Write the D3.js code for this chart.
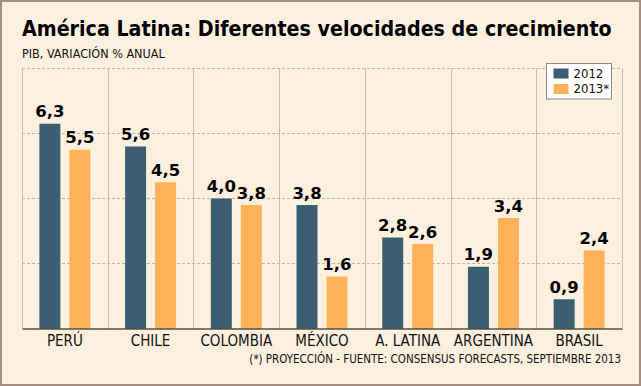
<!DOCTYPE html>
<html>
<head>
<meta charset="utf-8">
<script src="https://cdn.jsdelivr.net/npm/d3@7"></script>
<style>
  body { margin: 0; background: #fff; }
  svg { display: block; }
</style>
</head>
<body>
<div id="chart"></div>
<script>
// data
var countries = ["PERÚ", "CHILE", "COLOMBIA", "MÉXICO", "A. LATINA", "ARGENTINA", "BRASIL"];
var series = ["2012", "2013*"];
var values2012 = [6.3, 5.6, 4.0, 3.8, 2.8, 1.9, 0.9];
var values2013 = [5.5, 4.5, 3.8, 1.6, 2.6, 3.4, 2.4];
var yTicks = [0, 2, 4, 6, 8];

var W = 641, H = 386;
var margin = {top: 68.5, right: 19, bottom: 57.5, left: 22},
    width = W - margin.left - margin.right,
    height = H - margin.top - margin.bottom;

var colors = {"2012": "#3b5f71", "2013*": "#fdb158"};
var labelFont = "'DejaVu Sans Condensed', 'DejaVu Sans', sans-serif";
var titleFont = "'Liberation Sans Narrow', 'DejaVu Sans Condensed', sans-serif";

var svg = d3.select("#chart").append("svg")
    .attr("width", W)
    .attr("height", H);

// shrink font until the text fits the width seen in the reference
function fitText(sel, maxW, size) {
    sel.attr("font-size", size);
    var w = sel.node().getComputedTextLength();
    if (w > maxW) sel.attr("font-size", size * maxW / w);
    return sel;
}

// background + frame
svg.append("rect")
    .attr("x", 1).attr("y", 1)
    .attr("width", W - 2).attr("height", H - 2)
    .attr("fill", "#fdf0df")
    .attr("stroke", "#a58e80")
    .attr("stroke-width", 2);

// titles
var title = svg.append("text")
    .attr("x", 22).attr("y", 35.5)
    .attr("font-family", titleFont)
    .attr("font-weight", "bold")
    .attr("fill", "#000")
    .text("América Latina: Diferentes velocidades de crecimiento");
fitText(title, 590, 25);

var sub = svg.append("text")
    .attr("x", 22).attr("y", 58.3)
    .attr("font-family", labelFont)
    .attr("fill", "#111")
    .text("PIB, VARIACIÓN  % ANUAL");
fitText(sub, 163, 12.5);

var g = svg.append("g")
    .attr("transform", "translate(" + margin.left + "," + margin.top + ")");

// scales
var x0 = d3.scaleBand().domain(countries).range([0, width]);
var x1 = d3.scaleBand().domain(series)
    .range([0, x0.bandwidth()])
    .paddingInner(0.3)
    .paddingOuter(0.58);
var y = d3.scaleLinear().domain([0, 8]).range([height, 0]);

// horizontal dashed grid
g.append("g")
    .selectAll("line")
    .data(yTicks.filter(function(d) { return d > 0; }))
    .enter().append("line")
    .attr("x1", 0).attr("x2", width)
    .attr("y1", function(d) { return y(d); })
    .attr("y2", function(d) { return y(d); })
    .attr("stroke", "#bdb5ad")
    .attr("stroke-width", 1)
    .attr("stroke-dasharray", "3,2");

// vertical separators
var seps = d3.range(countries.length + 1).map(function(i) {
    return i < countries.length ? x0(countries[i]) : width;
});
g.append("g")
    .selectAll("line")
    .data(seps)
    .enter().append("line")
    .attr("x1", function(d) { return Math.round(d) + 0.5; })
    .attr("x2", function(d) { return Math.round(d) + 0.5; })
    .attr("y1", 0).attr("y2", height)
    .attr("stroke", "#c4bcb4")
    .attr("stroke-width", 1);

// bars
var rows = countries.map(function(c, i) {
    return {country: c, vals: [
        {key: "2012", v: values2012[i]},
        {key: "2013*", v: values2013[i]}
    ]};
});

var fmt = function(v) { return d3.format(".1f")(v).replace(".", ","); };

var groups = g.selectAll(".grp")
    .data(rows)
    .enter().append("g")
    .attr("class", "grp")
    .attr("transform", function(d) { return "translate(" + x0(d.country) + ",0)"; });

groups.selectAll("rect")
    .data(function(d) { return d.vals; })
    .enter().append("rect")
    .attr("x", function(d) { return x1(d.key); })
    .attr("width", x1.bandwidth())
    .attr("y", function(d) { return y(d.v); })
    .attr("height", function(d) { return height - y(d.v); })
    .attr("fill", function(d) { return colors[d.key]; });

groups.selectAll("text")
    .data(function(d) { return d.vals; })
    .enter().append("text")
    .attr("x", function(d) { return x1(d.key) + x1.bandwidth() / 2; })
    .attr("y", function(d) { return y(d.v) - 6.5; })
    .attr("text-anchor", "middle")
    .attr("font-family", "'DejaVu Sans', Verdana, sans-serif")
    .attr("font-weight", "bold")
    .attr("font-size", 16.5)
    .attr("fill", "#000")
    .text(function(d) { return fmt(d.v); });

// baseline + category axis
var xAxis = d3.axisBottom(x0).tickSize(0).tickPadding(9);
var ax = g.append("g")
    .attr("transform", "translate(0," + height + ")")
    .call(xAxis);
ax.select(".domain").attr("stroke", "#000").attr("stroke-width", 1.2);
ax.selectAll("text")
    .attr("font-family", labelFont)
    .attr("font-size", 15)
    .attr("fill", "#111")
    .attr("dy", "0.71em")
    .attr("y", 7);

// footnote
var foot = svg.append("text")
    .attr("x", 621).attr("y", 363)
    .attr("text-anchor", "end")
    .attr("font-family", labelFont)
    .attr("fill", "#111")
    .text("(*) PROYECCIÓN - FUENTE: CONSENSUS FORECASTS, SEPTIEMBRE 2013");
fitText(foot, 372, 12.5);

// legend
var legend = svg.append("g").attr("transform", "translate(546.5,63.5)");
legend.append("rect")
    .attr("width", 65).attr("height", 35.5)
    .attr("fill", "#fff")
    .attr("stroke", "#8a8a8a")
    .attr("stroke-width", 1);
series.forEach(function(s, i) {
    legend.append("rect")
        .attr("x", 7).attr("y", 5 + i * 15.5)
        .attr("width", 15).attr("height", 10)
        .attr("fill", colors[s]);
    legend.append("text")
        .attr("x", 27).attr("y", 14 + i * 15)
        .attr("font-family", labelFont)
        .attr("font-size", 13)
        .attr("fill", "#111")
        .text(s);
});
</script>
</body>
</html>
